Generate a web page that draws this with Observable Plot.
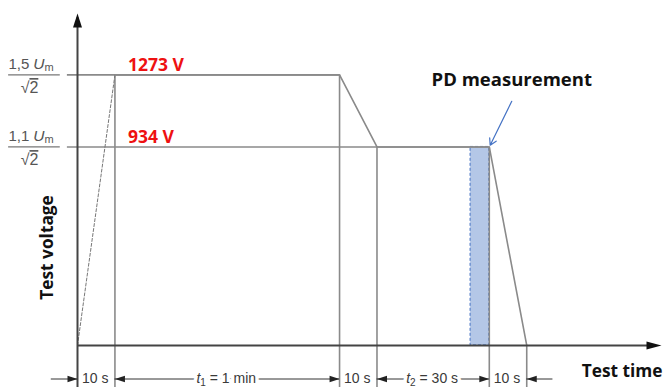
<!DOCTYPE html>
<html><head><meta charset="utf-8">
<script src="https://cdn.jsdelivr.net/npm/d3@7"></script>
<script src="https://cdn.jsdelivr.net/npm/@observablehq/plot@0.6"></script>
<style>
html,body{margin:0;padding:0;background:#fff;}
#chart svg{display:block;}
</style></head><body><div id="chart"></div>
<script>
// ---- data ----
const times = [0, 10, 70, 80, 110, 120];          // s, breakpoints of the voltage profile
const voltages = [0, 1273, 1273, 934, 934, 0];    // V at each breakpoint
const levelV = [1273, 934];
const levelText = ["1273 V", "934 V"];
const levelFactor = ["1,5", "1,1"];
const levelEnd = [70, 110];
const spanStart = [0, 10, 70, 80, 110];
const spanEnd = [10, 70, 80, 110, 120];
const spanSymbol = ["", "t", "", "t", ""];
const spanSub = ["", "1", "", "2", ""];
const spanValue = ["10 s", "= 1 min", "10 s", "= 30 s", "10 s"];
const pdStart = 105, pdEnd = 110, pdV = 934;
const pdLabel = "PD measurement";
const xLabel = "Test time", yLabel = "Test voltage";

// ---- layout ----
const X_MAX = 156, Y_MIN = -198, Y_MAX = 1562, DIM_Y = -158;
const GRAY = "#8a8a8a", DARK = "#444";
const SANS = "Liberation Sans, Arial, sans-serif";
const BOLD = "Open Sans, sans-serif";

function head(L, w, dir) {
  const P = {up: [[0,0],[-w,L],[w,L]], right: [[0,0],[-L,-w],[-L,w]], left: [[0,0],[L,-w],[L,w]]}[dir];
  return {draw(ctx) { ctx.moveTo(P[0][0], P[0][1]); ctx.lineTo(P[1][0], P[1][1]); ctx.lineTo(P[2][0], P[2][1]); ctx.closePath(); }};
}

const symIdx = spanSymbol.map((s, i) => s ? i : -1).filter(i => i >= 0);
const last = spanEnd.length - 1;
const dimSegs = symIdx.map(i => ({a: spanStart[i], b: spanEnd[i]}))
  .concat([{a: spanStart[0] - 7, b: spanStart[0]}, {a: spanEnd[last], b: spanEnd[last] + 7}]);
const leftHeads = symIdx.map(i => spanStart[i]).concat([spanEnd[last]]);
const rightHeads = symIdx.map(i => spanEnd[i]).concat([spanStart[0]]);
const spanMid = (d, i) => (spanStart[i] + spanEnd[i]) / 2;
const dimText = {text: d => d, x: spanMid, y: () => DIM_Y, dx: -1, fontFamily: SANS, fontSize: 14};

const plot = Plot.plot({
  width: 663, height: 387,
  marginLeft: 77, marginRight: 2, marginTop: 13, marginBottom: 0,
  x: {domain: [0, X_MAX], axis: null},
  y: {domain: [Y_MIN, Y_MAX], axis: null},
  style: {background: "#fff", overflow: "visible"},
  marks: [
    // PD measurement window
    Plot.rect([0], {x1: () => pdStart, x2: () => pdEnd, y1: () => 0, y2: () => pdV,
      fill: "#b4c7e7", stroke: "#4472c4", strokeWidth: 1, strokeDasharray: "3,2"}),
    // voltage level lines
    Plot.ruleY(levelV, {y: d => d, x1: -2.7, x2: (d, i) => levelEnd[i], stroke: GRAY, strokeWidth: 1.6}),
    // fraction bars
    Plot.ruleY(levelV, {y: d => d, x1: -18.4, x2: -4.6, stroke: "#777", strokeWidth: 1.3}),
    // vertical extension lines
    Plot.ruleX(times.slice(1), {x: d => d, y1: (d, i) => voltages[i + 1], y2: Y_MIN, stroke: GRAY, strokeWidth: 1.6}),
    // ramp up (dashed)
    Plot.line([0, 1], {x: i => times[i], y: i => voltages[i], stroke: "#777", strokeWidth: 1, strokeDasharray: "3,2"}),
    // rest of the profile
    Plot.line([1, 2, 3, 4, 5], {x: i => times[i], y: i => voltages[i], stroke: GRAY, strokeWidth: 1.6}),
    // axes
    Plot.ruleX([0], {x: d => d, y1: Y_MIN, y2: Y_MAX - 20, stroke: DARK, strokeWidth: 2}),
    Plot.ruleY([0], {y: d => d, x1: 0, x2: X_MAX - 2, stroke: DARK, strokeWidth: 2}),
    Plot.dot([0], {x: () => 0, y: () => Y_MAX, symbol: head(14, 4.5, "up"), fill: "#111", stroke: "none"}),
    Plot.dot([0], {x: () => X_MAX, y: () => 0, symbol: head(15, 4, "right"), fill: "#111", stroke: "none"}),
    // dimension lines
    Plot.ruleY(dimSegs, {x1: "a", x2: "b", y: () => DIM_Y, stroke: "#333", strokeWidth: 1}),
    Plot.dot(leftHeads, {x: d => d, y: () => DIM_Y, symbol: head(10, 3.2, "left"), fill: "#222", stroke: "none"}),
    Plot.dot(rightHeads, {x: d => d, y: () => DIM_Y, symbol: head(10, 3.2, "right"), fill: "#222", stroke: "none"}),
    Plot.text(spanValue, {...dimText, fill: "white", stroke: "white", strokeWidth: 7}),
    Plot.text(spanValue, {...dimText, fill: "#3a3a3a"}),
    // PD arrow
    Plot.arrow([0], {x1: () => pdEnd + 6, y1: () => pdV + 215, x2: () => pdEnd, y2: () => pdV,
      insetEnd: 2, stroke: "#4472c4", strokeWidth: 1.2, headLength: 9}),
    Plot.text([pdLabel], {text: d => d, x: () => pdEnd + 6, y: () => pdV + 215, dy: -21,
      fontFamily: BOLD, fontWeight: 700, fontSize: 18.5, fill: "#111"}),
    // level annotations
    Plot.text(levelText, {text: d => d, x: () => times[1], y: (d, i) => levelV[i], dx: 13, dy: -10,
      textAnchor: "start", fontFamily: BOLD, fontWeight: 700, fontSize: 17.5, fill: "#ee1111"}),
    Plot.text(levelFactor, {text: d => d, x: () => 0, y: (d, i) => levelV[i], dx: -69, dy: -11,
      textAnchor: "start", fontFamily: SANS, fontSize: 15, fill: "#555"}),
    Plot.text(levelV.map(() => "√2"), {text: d => d, x: () => 0, y: (d, i) => levelV[i], dx: -48, dy: 13,
      fontFamily: SANS, fontSize: 16, fill: "#555"}),
    // axis titles
    Plot.text([yLabel], {text: d => d, x: () => 0, y: () => 461, dx: -30, rotate: -90,
      fontFamily: BOLD, fontWeight: 700, fontSize: 17.3, fill: "#111"}),
    Plot.text([xLabel], {text: d => d, frameAnchor: "bottom-right", textAnchor: "end", dx: 1, dy: -11,
      fontFamily: BOLD, fontWeight: 700, fontSize: 17.3, fill: "#111"})
  ]
});

// rich text: italic symbols and subscripts
const svg = d3.select(plot);
svg.selectAll("text").each(function () {
  const el = d3.select(this);
  const s = this.textContent;
  const si = spanValue.indexOf(s);
  if (si >= 0 && spanSymbol[si]) {
    el.text("");
    el.append("tspan").attr("font-style", "italic").text(spanSymbol[si]);
    el.append("tspan").attr("font-size", 10).attr("dy", 3).text(spanSub[si]);
    el.append("tspan").attr("dy", -3).text(" " + s);
  } else if (levelFactor.includes(s)) {
    el.append("tspan").attr("dx", 4).attr("font-style", "italic").attr("font-size", 15.5).text("U");
    el.append("tspan").attr("font-size", 11).attr("dy", 2).text("m");
  } else if (s === "√2") {
    el.text("√");
    el.append("tspan").style("text-decoration", "overline").text("2");
  }
});
document.getElementById("chart").appendChild(plot);
</script>
</body></html>
